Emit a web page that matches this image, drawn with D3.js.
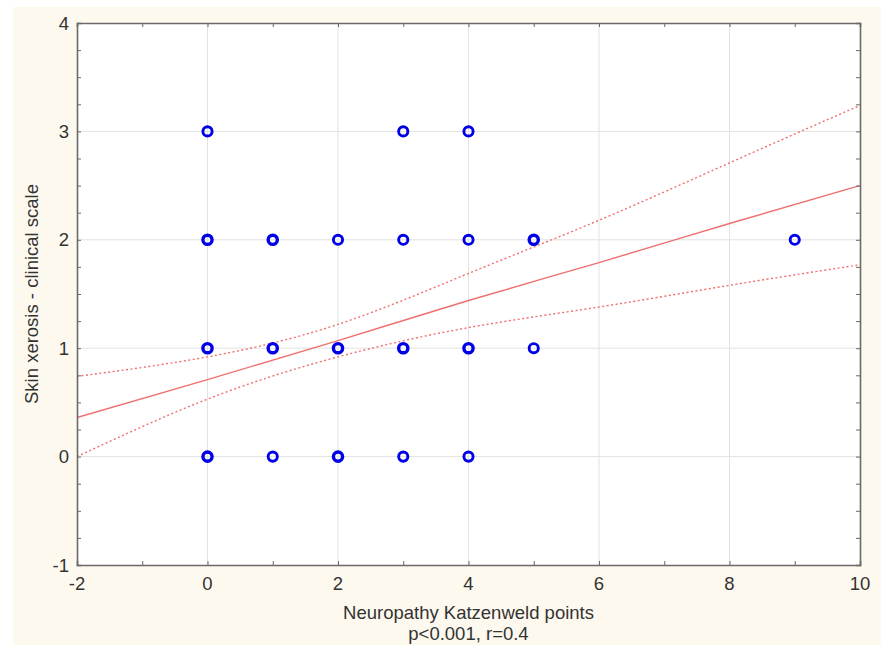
<!DOCTYPE html>
<html>
<head>
<meta charset="utf-8">
<script src="https://cdn.jsdelivr.net/npm/d3@7"></script>
<style>
  body { margin: 0; background: #fff; }
  text { font-family: "Liberation Sans", Arial, sans-serif; fill: #333; }
</style>
</head>
<body>
<script>
// observations (x = Katzenweld points, y = xerosis scale, n = overlapping cases)
var pointX = [0, 3, 4, 0, 1, 2, 3, 4, 5, 9, 0, 1, 2, 3, 4, 5, 0, 1, 2, 3, 4];
var pointY = [3, 3, 3, 2, 2, 2, 2, 2, 2, 2, 1, 1, 1, 1, 1, 1, 0, 0, 0, 0, 0];
var pointN = [1, 1, 1, 2, 2, 1, 1, 1, 2, 1, 2, 2, 2, 2, 2, 1, 2, 1, 2, 1, 1];

// fitted line and 95% band, read at grid positions
var fitX = [-2, 0, 2, 4, 6, 8, 10];
var fitY = [0.36, 0.71, 1.07, 1.44, 1.79, 2.15, 2.50];
var bandUpper = [0.74, 0.92, 1.22, 1.69, 2.18, 2.71, 3.24];
var bandLower = [0.00, 0.53, 0.92, 1.19, 1.38, 1.58, 1.77];

var xTicks = [-2, 0, 2, 4, 6, 8, 10];
var yTicks = [-1, 0, 1, 2, 3, 4];

var W = 881, H = 645;
var m = {left: 77, right: 21, top: 23, bottom: 80};

var svg = d3.select('body').append('svg')
    .attr('width', W)
    .attr('height', H);

svg.append('rect')
    .attr('x', 13).attr('y', 7)
    .attr('width', W - 13).attr('height', H - 7)
    .attr('fill', '#fef9ee');

var x = d3.scaleLinear().domain([-2, 10]).range([m.left, W - m.right]);
var y = d3.scaleLinear().domain([-1, 4]).range([H - m.bottom, m.top]);

svg.append('rect')
    .attr('x', x(-2)).attr('y', y(4))
    .attr('width', x(10) - x(-2)).attr('height', y(-1) - y(4))
    .attr('fill', '#fff');

// grid
svg.append('g').selectAll('line').data(xTicks.slice(1, -1)).join('line')
    .attr('x1', d => x(d)).attr('x2', d => x(d))
    .attr('y1', y(4)).attr('y2', y(-1))
    .attr('stroke', '#e2e2e2').attr('stroke-width', 1);
svg.append('g').selectAll('line').data(yTicks.slice(1, -1)).join('line')
    .attr('y1', d => y(d)).attr('y2', d => y(d))
    .attr('x1', x(-2)).attr('x2', x(10))
    .attr('stroke', '#e2e2e2').attr('stroke-width', 1);

// band + fit
svg.append('clipPath').attr('id', 'plot').append('rect')
    .attr('x', x(-2)).attr('y', y(4))
    .attr('width', x(10) - x(-2)).attr('height', y(-1) - y(4));

function lineOf(vals) {
  return d3.line().x((d, i) => x(fitX[i])).y(d => y(d)).curve(d3.curveNatural)(vals);
}
var lines = svg.append('g').attr('clip-path', 'url(#plot)');
lines.append('path').attr('d', lineOf(fitY))
    .attr('fill', 'none').attr('stroke', '#ef6f6f').attr('stroke-width', 1.4);
[bandUpper, bandLower].forEach(function(b) {
  lines.append('path').attr('d', lineOf(b))
      .attr('fill', 'none').attr('stroke', '#ef6f6f').attr('stroke-width', 1.4)
      .attr('stroke-dasharray', '2,2.5');
});

// points
svg.append('g').selectAll('circle').data(pointX).join('circle')
    .attr('cx', d => x(d))
    .attr('cy', (d, i) => y(pointY[i]))
    .attr('r', 4.6)
    .attr('fill', 'none')
    .attr('stroke', '#0000e6')
    .attr('stroke-width', (d, i) => pointN[i] > 1 ? 3.4 : 2.9);

// axes, ticks inward on all sides
var frame = '#6a6a6a';
var axB = d3.axisBottom(x).tickValues(d3.range(-2, 10.01, 1)).tickSize(-4).tickFormat('');
var axT = d3.axisTop(x).tickValues(d3.range(-2, 10.01, 1)).tickSize(-4).tickFormat('');
var axL = d3.axisLeft(y).tickValues(d3.range(-1, 4.01, 0.25)).tickSize(-4).tickFormat('');
var axR = d3.axisRight(y).tickValues(d3.range(-1, 4.01, 0.25)).tickSize(-4).tickFormat('');
[[axB, 'translate(0,' + y(-1) + ')'], [axT, 'translate(0,' + y(4) + ')'],
 [axL, 'translate(' + x(-2) + ',0)'], [axR, 'translate(' + x(10) + ',0)']].forEach(function(a) {
  var g = svg.append('g').attr('transform', a[1]).call(a[0]);
  g.select('.domain').attr('stroke', frame).attr('stroke-width', 1.6);
  g.selectAll('.tick line').attr('stroke', frame).attr('stroke-width', 1);
});

// tick labels
svg.append('g').selectAll('text').data(xTicks).join('text')
    .attr('x', d => x(d)).attr('y', y(-1) + 25)
    .attr('text-anchor', 'middle')
    .style('font-size', '18.5px')
    .text(d => d);
svg.append('g').selectAll('text').data(yTicks).join('text')
    .attr('x', x(-2) - 8).attr('y', d => y(d) + 6.5)
    .attr('text-anchor', 'end')
    .style('font-size', '18.5px')
    .text(d => d);

// titles
svg.append('text')
    .attr('x', (x(-2) + x(10)) / 2).attr('y', 619)
    .attr('text-anchor', 'middle').style('font-size', '18.5px')
    .text('Neuropathy Katzenweld points');
svg.append('text')
    .attr('x', (x(-2) + x(10)) / 2).attr('y', 640)
    .attr('text-anchor', 'middle').style('font-size', '18.5px')
    .text('p<0.001, r=0.4');
svg.append('text')
    .attr('transform', 'translate(38,' + ((y(4) + y(-1)) / 2) + ') rotate(-90)')
    .attr('text-anchor', 'middle').style('font-size', '18.5px')
    .text('Skin xerosis - clinical scale');
</script>
</body>
</html>
